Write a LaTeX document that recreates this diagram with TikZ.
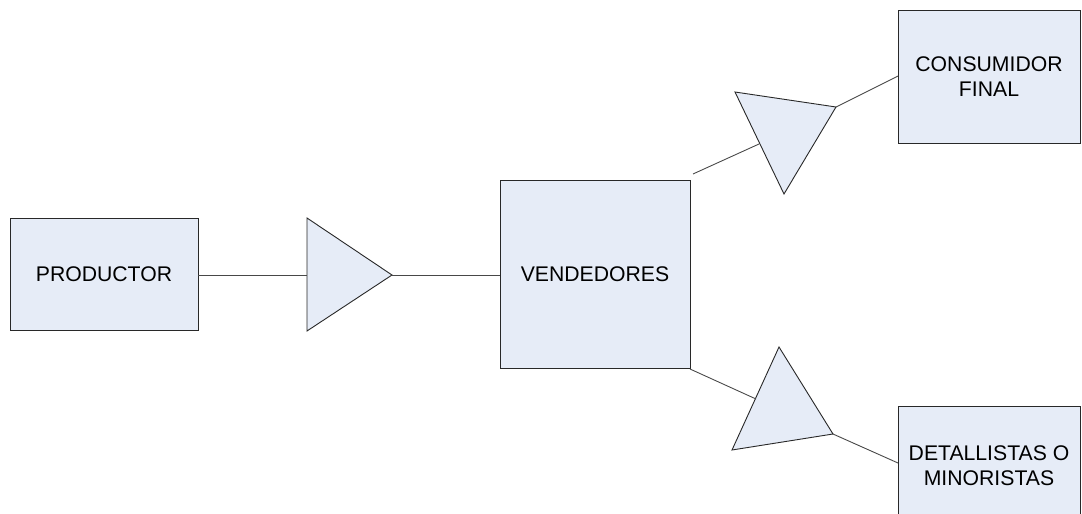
\documentclass[tikz,border=0pt]{standalone}
\usepackage{fontspec}
\setmainfont{Liberation Sans}
\definecolor{boxfill}{RGB}{230,236,247}
\definecolor{edgecol}{RGB}{40,40,40}
\begin{document}
\begin{tikzpicture}[x=1pt,y=-1pt,
  box/.style={draw=edgecol,fill=boxfill,line width=0.9pt,inner sep=0pt,align=center,
    font=\fontsize{21.2}{25}\selectfont},
  tri/.style={draw=edgecol,fill=boxfill,line width=0.9pt,line join=miter},
  conn/.style={draw=edgecol!85,line width=0.9pt}]
\useasboundingbox (0,0) rectangle (1082,514);
\node[box,minimum width=188pt,minimum height=112pt] (prod) at (104,274) {PRODUCTOR};
\node[box,minimum width=190pt,minimum height=188pt] (vend) at (595,274) {VENDEDORES};
\node[box,minimum width=182pt,minimum height=133pt] (cons) at (989,76.5) {CONSUMIDOR\\FINAL};
\node[box,minimum width=182pt,minimum height=120pt] (det) at (989,466) {DETALLISTAS O\\MINORISTAS};
% triangles
\coordinate (t1a) at (307,218); \coordinate (t1b) at (307,331); \coordinate (t1c) at (392,275);
\coordinate (t2a) at (735,92); \coordinate (t2b) at (836,107); \coordinate (t2c) at (784,194);
\coordinate (t3a) at (779,347); \coordinate (t3b) at (833,434); \coordinate (t3c) at (732,450);
\path[tri] (t1a) -- (t1c) -- (t1b) -- cycle;
\path[tri] (t2a) -- (t2b) -- (t2c) -- cycle;
\path[tri] (t3a) -- (t3b) -- (t3c) -- cycle;
% connector ends
\coordinate (t1in) at (307,275);
\coordinate (v2out) at (693,174); \coordinate (t2in) at (759,144);
\coordinate (v3out) at (690,369); \coordinate (t3in) at (756,399);
\coordinate (consin) at (898,76); \coordinate (detin) at (898,463);
\draw[conn] (prod.east |- t1in) -- (t1in);
\draw[conn] (t1c) -- (vend.west |- t1c);
\draw[conn] (v2out) -- (t2in);
\draw[conn] (t2b) -- (consin);
\draw[conn] (v3out) -- (t3in);
\draw[conn] (t3b) -- (detin);
\end{tikzpicture}
\end{document}
